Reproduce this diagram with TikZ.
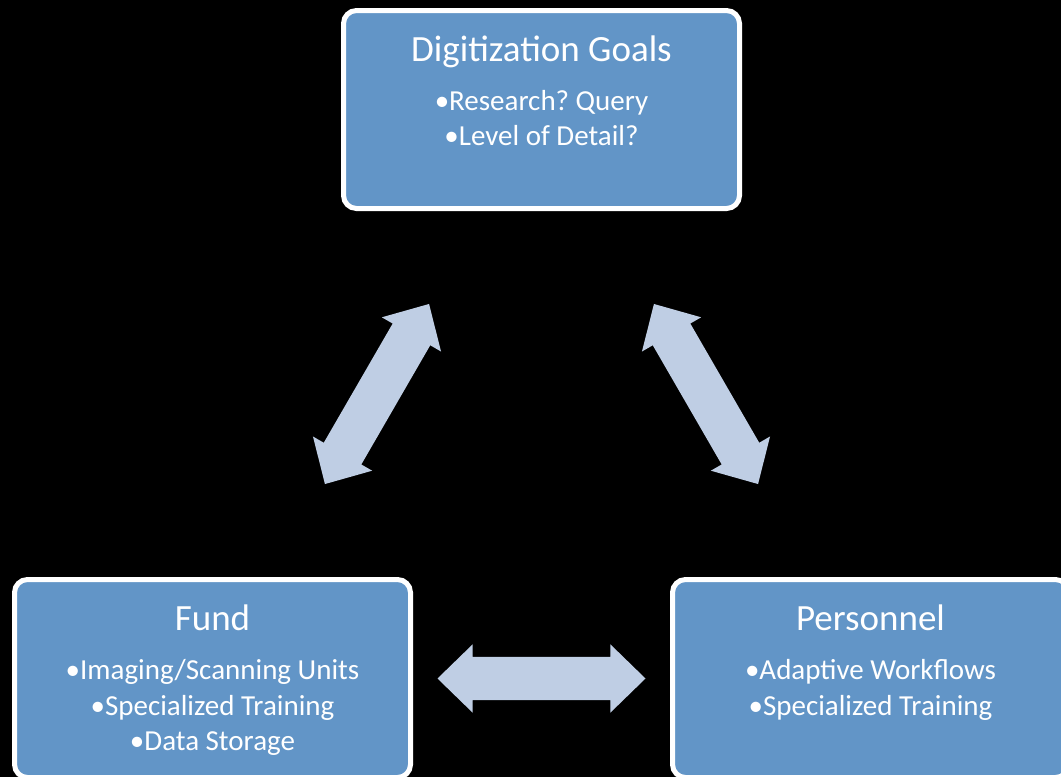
\documentclass[tikz,border=0pt]{standalone}
\usepackage{fontspec}
\setmainfont{Carlito}
\usetikzlibrary{calc,shapes.arrows}
\definecolor{boxblue}{RGB}{98,149,199}
\definecolor{arrblue}{RGB}{191,206,228}
\frenchspacing

\begin{document}
\begin{tikzpicture}[x=1pt,y=-1pt,
  box/.style={draw=white,line width=5pt,fill=boxblue,rounded corners=13pt,
              minimum width=396pt,minimum height=198pt,inner sep=0pt},
  ttl/.style={anchor=base,text=white,inner sep=0pt,font=\fontsize{37}{44}\selectfont},
  itm/.style={anchor=base,text=white,inner sep=0pt,font=\fontsize{29}{34}\selectfont},
  dbl/.style={double arrow,fill=arrblue,draw=none,inner xsep=0pt,inner ysep=21.5pt,sloped,
              minimum height=208pt,minimum width=68pt,
              double arrow head extend=12.5pt,double arrow head indent=0pt,
              double arrow tip angle=88.4}
]
\fill[black] (0,0) rectangle (1061,777);
\useasboundingbox (0,0) rectangle (1061,777);
\clip (0,0) rectangle (1061,777);

% boxes
\node[box] (goals) at (541.5,109.5) {};
\node[box] (fund) at (212.5,678.5) {};
\node[box] (personnel) at (870.5,678.5) {};

% box texts
\node[ttl] (goalsT) at ($(goals.north)+(0,53.5)$) {Digitization Goals};
\node[itm] (goals1) at ($(goals.north)+(0,102)$) {•Research? Query};
\node[itm] (goals2) at ($(goals.north)+(0,137.5)$) {•Level of Detail?};

\node[ttl] (fundT) at ($(fund.north)+(0,53.5)$) {Fund};
\node[itm] (fund1) at ($(fund.north)+(0,102.5)$) {•Imaging/Scanning Units};
\node[itm] (fund2) at ($(fund.north)+(0,138)$) {•Specialized Training};
\node[itm] (fund3) at ($(fund.north)+(0,173.5)$) {•Data Storage};

\node[ttl] (personnelT) at ($(personnel.north)+(0,53.5)$) {Personnel};
\node[itm] (personnel1) at ($(personnel.north)+(0,102.5)$) {•Adaptive Workflows};
\node[itm] (personnel2) at ($(personnel.north)+(0,138)$) {•Specialized Training};

% double arrows
\path (fund.center) -- node[dbl] (a1) {} (goals.center);
\path (personnel.center) -- node[dbl] (a2) {} (goals.center);
\path (fund.center) -- node[dbl] (a3) {} (personnel.center);

\end{tikzpicture}
\end{document}
